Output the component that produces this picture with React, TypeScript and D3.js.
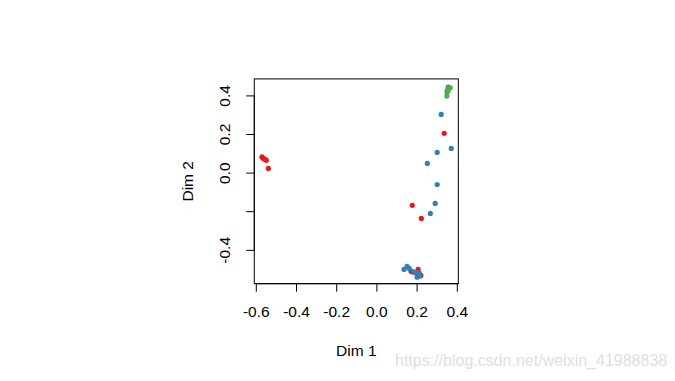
import React from "react";
import * as d3 from "d3";

const redX = [-0.572, -0.565, -0.557, -0.55, -0.54, 0.335, 0.176, 0.221, 0.17, 0.205, 0.219, 0.178];
const redY = [0.084, 0.076, 0.071, 0.066, 0.024, 0.206, -0.167, -0.235, -0.509, -0.499, -0.53, -0.512];
const blueX = [0.32, 0.37, 0.3, 0.251, 0.3, 0.29, 0.266, 0.135, 0.15, 0.161, 0.185, 0.195, 0.205, 0.214, 0.2, 0.21, 0.355, 0.349];
const blueY = [0.304, 0.128, 0.107, 0.05, -0.059, -0.157, -0.209, -0.499, -0.483, -0.494, -0.513, -0.518, -0.528, -0.534, -0.539, -0.516, 0.446, 0.421];
const greenX = [0.348, 0.35, 0.359, 0.365, 0.354];
const greenY = [0.399, 0.43, 0.439, 0.442, 0.425];

const xTicks = [-0.6, -0.4, -0.2, 0.0, 0.2, 0.4];
const yTicks = [-0.4, -0.2, 0.0, 0.2, 0.4];
const yLabelShown = [true, false, true, true, true];
const xLim = [-0.61, 0.405];
const yLim = [-0.573, 0.488];

const series = [
  { xs: redX, ys: redY, color: "#E41A1C" },
  { xs: blueX, ys: blueY, color: "#377EB8" },
  { xs: greenX, ys: greenY, color: "#4DAF4A" },
];

export default function App() {
  const x = d3.scaleLinear().domain([-0.6, 0.4]).range([256.3, 457.3]);
  const y = d3.scaleLinear().domain([-0.4, 0.4]).range([250.3, 95.9]);
  const left = x(xLim[0]);
  const right = x(xLim[1]);
  const top = y(yLim[1]);
  const bottom = y(yLim[0]);
  const font = "'Liberation Sans', Arial, sans-serif";
  const fmt = (v: number) => v.toFixed(1);
  return (
    <svg
      width={675}
      height={381}
      style={{ position: "absolute", left: 0, top: 0, background: "#fff" }}
      fontFamily={font}
    >
      <rect x={0} y={0} width={675} height={381} fill="#fff" />
      <rect x={left} y={top} width={right - left} height={bottom - top} fill="none" stroke="#000" strokeWidth={1} />
      <line x1={x(xTicks[0])} x2={x(xTicks[xTicks.length - 1])} y1={bottom} y2={bottom} stroke="#000" />
      {xTicks.map((t, i) => (
        <g key={"xt" + i}>
          <line x1={x(t)} x2={x(t)} y1={bottom} y2={bottom + 8} stroke="#000" />
          <text x={x(t)} y={317} textAnchor="middle" fontSize={15.5} fill="#000">
            {fmt(t)}
          </text>
        </g>
      ))}
      <line x1={left} x2={left} y1={y(yTicks[0])} y2={y(yTicks[yTicks.length - 1])} stroke="#000" />
      {yTicks.map((t, i) => (
        <g key={"yt" + i}>
          <line x1={left - 8} x2={left} y1={y(t)} y2={y(t)} stroke="#000" />
          {yLabelShown[i] && (
            <text
              transform={`translate(${230},${y(t)}) rotate(-90)`}
              textAnchor="middle"
              fontSize={15.5}
              fill="#000"
            >
              {fmt(t)}
            </text>
          )}
        </g>
      ))}
      {series.map((s, si) =>
        s.xs.map((xv, i) => (
          <circle key={si + "-" + i} cx={x(xv)} cy={y(s.ys[i])} r={2.6} fill={s.color} />
        ))
      )}
      <text x={(left + right) / 2} y={356} textAnchor="middle" fontSize={15.5} fill="#000">
        Dim 1
      </text>
      <text
        transform={`translate(${193},${(top + bottom) / 2}) rotate(-90)`}
        textAnchor="middle"
        fontSize={15.5}
        fill="#000"
      >
        Dim 2
      </text>
      <text x={395} y={366} fontSize={16} fill="#e0e0e0">
        https://blog.csdn.net/weixin_41988838
      </text>
    </svg>
  );
}
